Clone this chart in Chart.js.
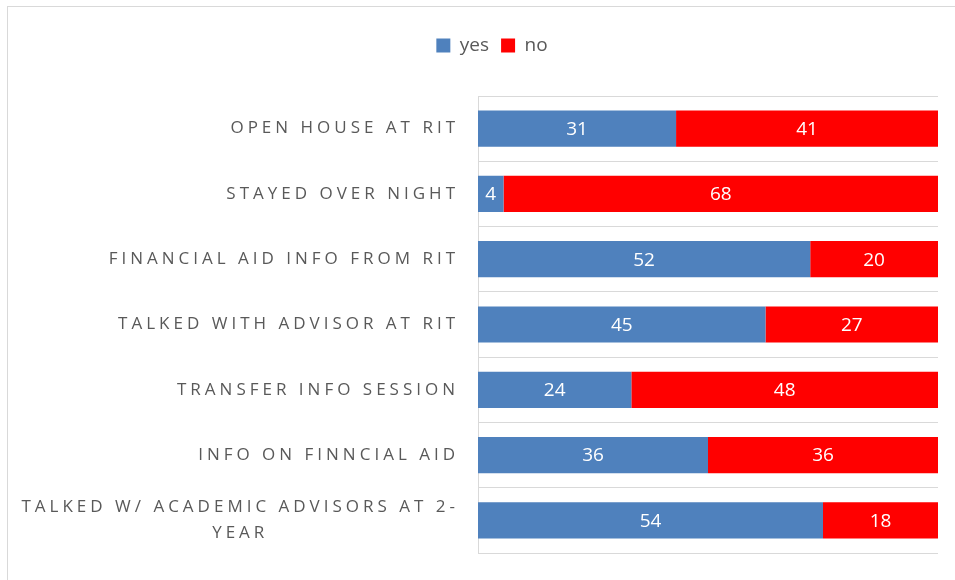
<!DOCTYPE html>
<html>
<head>
<meta charset="utf-8">
<script src="https://cdn.jsdelivr.net/npm/chart.js@4.4.1/dist/chart.umd.min.js"></script>
<style>
  html, body { margin: 0; padding: 0; background: #fff; }
  #wrap { position: relative; width: 955px; height: 580px; overflow: hidden; }
  #frame { position: absolute; left: 7px; top: 6px; width: 980px; height: 600px; border: 1px solid #d9d9d9; }
  #chart { position: absolute; left: 0; top: 0; }
</style>
</head>
<body>
<div id="wrap">
  <div id="frame"></div>
  <canvas id="chart" width="955" height="580"></canvas>
</div>
<script>
// data
const categories = [
    'OPEN HOUSE AT RIT',
    'STAYED OVER NIGHT',
    'FINANCIAL AID INFO FROM RIT',
    'TALKED WITH ADVISOR AT RIT',
    'TRANSFER INFO SESSION',
    'INFO ON FINNCIAL AID',
    ['TALKED W/ ACADEMIC ADVISORS AT 2-', 'YEAR']
];
const yesValues = [31, 4, 52, 45, 24, 36, 54];
const noValues = [41, 68, 20, 27, 48, 36, 18];
const seriesNames = ['yes', 'no'];

const LABEL_SPACING = '4px';
const LEGEND_SHIFT = 23; // the frame runs past the right edge, so legend sits right of centre

// y labels get letter spacing, wrapped label centred like excel does
const spacedLabels = {
    id: 'spacedLabels',
    afterLayout: function (chart) {
        chart.legend.left += LEGEND_SHIFT;
        chart.legend.right += LEGEND_SHIFT;
        const s = chart.scales.y;
        if (s._spaced) return;
        const orig = s.drawLabels.bind(s);
        s.drawLabels = function (area) {
            const ctx = this.ctx;
            ctx.save();
            ctx.letterSpacing = LABEL_SPACING;
            const items = this.getLabelItems(area);
            items.forEach(function (it) {
                if (Array.isArray(it.label) && !it._centred) {
                    ctx.font = it.font.string;
                    let w = 0;
                    it.label.forEach(function (l) { w = Math.max(w, ctx.measureText(l).width); });
                    it.options.textAlign = 'center';
                    it.options.translation = [it.options.translation[0] - w / 2, it.options.translation[1]];
                    it._centred = true;
                }
            });
            orig(area);
            ctx.restore();
        };
        s._spaced = true;
    }
};

// values written in the middle of each segment
const barValues = {
    id: 'barValues',
    afterDatasetsDraw: function (chart) {
        const ctx = chart.ctx;
        ctx.save();
        ctx.font = '19px "Open Sans"';
        ctx.fillStyle = '#ffffff';
        ctx.textAlign = 'center';
        ctx.textBaseline = 'middle';
        chart.data.datasets.forEach(function (ds, i) {
            chart.getDatasetMeta(i).data.forEach(function (bar, j) {
                const p = bar.getProps(['x', 'y', 'base'], true);
                ctx.fillText(ds.data[j], (p.x + p.base) / 2, p.y + 1);
            });
        });
        ctx.restore();
    }
};

const ctx = document.getElementById('chart').getContext('2d');
new Chart(ctx, {
    type: 'bar',
    data: {
        labels: categories,
        datasets: [
            { label: seriesNames[0], data: yesValues, backgroundColor: '#4f81bd' },
            { label: seriesNames[1], data: noValues, backgroundColor: '#ff0000' }
        ]
    },
    options: {
        indexAxis: 'y',
        responsive: false,
        animation: false,
        layout: { padding: { left: 0, right: 17, top: 24, bottom: 27 } },
        datasets: {
            bar: { barPercentage: 0.555, categoryPercentage: 1.0 }
        },
        scales: {
            x: {
                stacked: true,
                min: 0,
                max: 72,
                position: 'top',
                grid: { display: false },
                border: { display: false },
                ticks: { display: false },
                afterFit: function (scale) { scale.height = 31; }
            },
            y: {
                stacked: true,
                grid: { color: '#d9d9d9', lineWidth: 1, drawTicks: false, offset: true },
                border: { display: true, color: '#d9d9d9' },
                ticks: {
                    color: '#595959',
                    font: { family: '"Open Sans"', size: 17, lineHeight: 1.5 },
                    padding: 19
                },
                afterFit: function (scale) {
                    scale.width = 478;
                    scale.paddingTop = 0;
                    scale.paddingBottom = 0;
                }
            }
        },
        plugins: {
            legend: {
                position: 'top',
                labels: {
                    color: '#595959',
                    font: { family: '"Open Sans"', size: 19 },
                    boxWidth: 14,
                    boxHeight: 14,
                    padding: 12
                }
            },
            tooltip: { enabled: false }
        }
    },
    plugins: [spacedLabels, barValues]
});
</script>
</body>
</html>
